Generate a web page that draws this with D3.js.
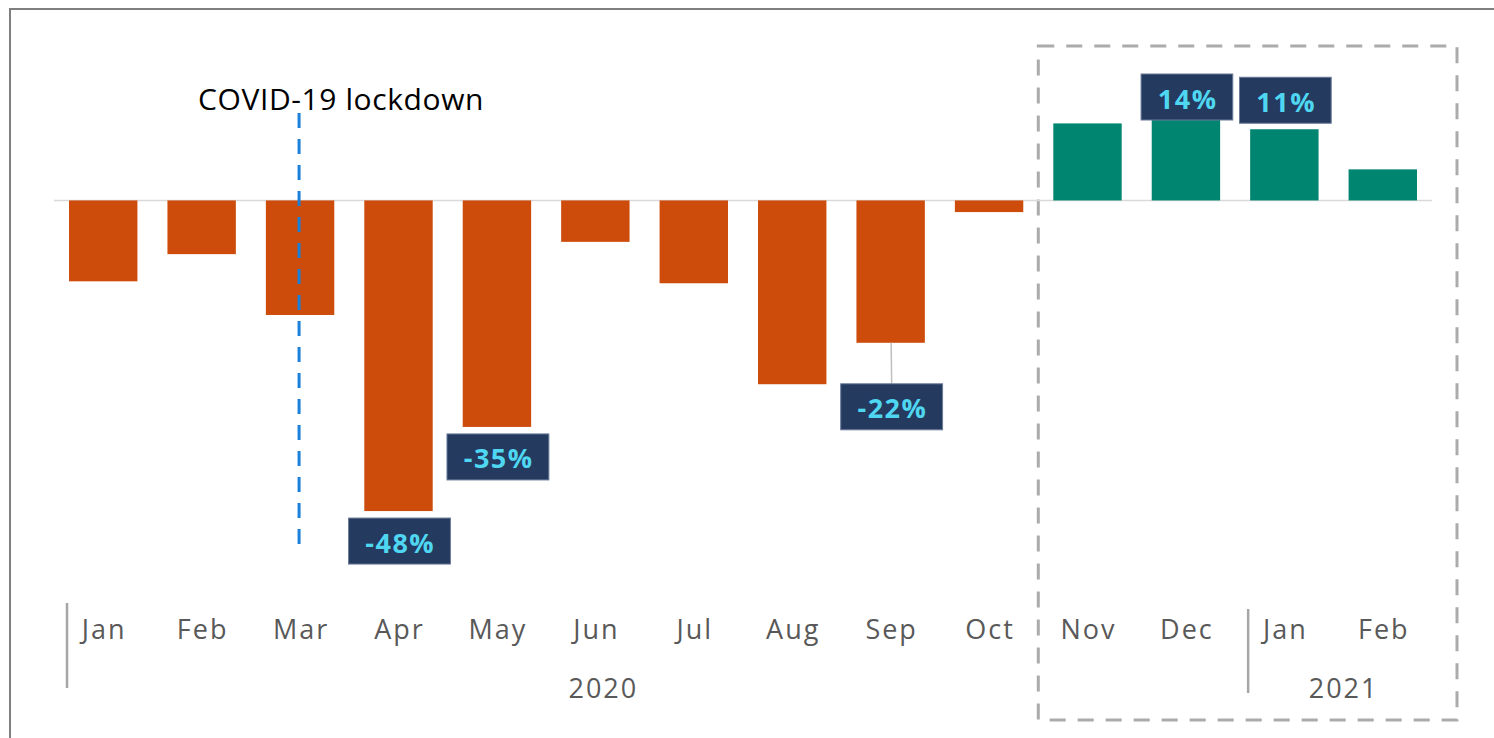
<!DOCTYPE html>
<html>
<head>
<meta charset="utf-8">
<script src="https://cdn.jsdelivr.net/npm/d3@7"></script>
<style>
  html, body { margin: 0; padding: 0; background: #fff; }
  svg { display: block; font-family: "Open Sans", "Noto Sans", sans-serif; }
</style>
</head>
<body>
<div id="chart"></div>
<script>
// month-on-month change, Jan 2020 .. Feb 2021 (%)
const months = ["Jan", "Feb", "Mar", "Apr", "May", "Jun", "Jul", "Aug", "Sep", "Oct", "Nov", "Dec", "Jan", "Feb"];
const values = [-12.5, -8.3, -17.7, -48, -35, -6.4, -12.8, -28.4, -22, -1.8, 11.9, 14, 11, 4.8];
const labels = ["", "", "", "-48%", "-35%", "", "", "", "-22%", "", "", "14%", "11%", ""];
const years = ["2020", "2021"];
const yearStart = [0, 12]; // index of first month of each year
const highlightFrom = 10; // Nov 2020 onwards sits in the dashed box
const lockdownIndex = 2; // March 2020

const W = 1494, H = 738;

const svg = d3.select("#chart").append("svg")
  .attr("width", W)
  .attr("height", H);

const xScale = d3.scaleBand()
  .domain(d3.range(months.length))
  .range([54, 1432])
  .paddingInner(0.305)
  .paddingOuter(0.1525);

const yScale = d3.scaleLinear()
  .domain([-50, 20])
  .range([524, 71]);

const step = xScale.step();
const bw = xScale.bandwidth();
const cx = (i) => xScale(i) + bw / 2;

// outer frame (top + left only are visible)
svg.append("path")
  .attr("d", `M10,${H + 5} L10,9 L${W + 5},9`)
  .attr("fill", "none")
  .attr("stroke", "#7f7f7f")
  .attr("stroke-width", 2);

// dashed box around latest months
svg.append("rect")
  .attr("x", xScale(highlightFrom) - 15)
  .attr("y", 46)
  .attr("width", 1457 - (xScale(highlightFrom) - 15))
  .attr("height", 674)
  .attr("fill", "none")
  .attr("stroke", "#ababab")
  .attr("stroke-width", 3)
  .attr("stroke-dasharray", "16 12");

// zero line
svg.append("line")
  .attr("x1", xScale.range()[0])
  .attr("x2", xScale.range()[1])
  .attr("y1", yScale(0))
  .attr("y2", yScale(0))
  .attr("stroke", "#d9d9d9")
  .attr("stroke-width", 1.5);

// bars
svg.selectAll(".bar")
  .data(values)
  .enter()
  .append("rect")
  .attr("class", "bar")
  .attr("x", (d, i) => xScale(i))
  .attr("width", bw)
  .attr("y", (d) => yScale(Math.max(0, d)))
  .attr("height", (d) => Math.abs(yScale(d) - yScale(0)))
  .attr("fill", (d, i) => (i >= highlightFrom ? "#008570" : "#cd4c0b"));

// lockdown marker
svg.append("line")
  .attr("x1", cx(lockdownIndex) - 1)
  .attr("x2", cx(lockdownIndex) - 1)
  .attr("y1", 113)
  .attr("y2", 545)
  .attr("stroke", "#1a80d9")
  .attr("stroke-width", 3)
  .attr("stroke-dasharray", "15 11");

svg.append("text")
  .attr("x", 198)
  .attr("y", 110)
  .style("font-size", "30px")
  .style("letter-spacing", "0.6px")
  .attr("fill", "#000")
  .text("COVID-19 lockdown");

// data labels
const boxH = 46;
const leaderDrop = { 8: 34 }; // Sep label pulled down with a leader line
const labelData = labels.map((t, i) => ({ t, i, v: values[i] })).filter((d) => d.t);

const lab = svg.selectAll(".lab")
  .data(labelData)
  .enter()
  .append("g")
  .attr("class", "lab");

lab.each(function (d) {
  const g = d3.select(this);
  const txt = g.append("text")
    .attr("text-anchor", "middle")
    .attr("dominant-baseline", "central")
    .style("font-size", "27px")
    .style("font-weight", "bold")
    .style("letter-spacing", "1.5px")
    .attr("fill", "#4fd7f2")
    .text(d.t);
  const tw = txt.node().getComputedTextLength();
  const bwBox = tw + 32;
  let top;
  if (d.v < 0) {
    top = yScale(d.v) + 7 + (leaderDrop[d.i] || 0);
  } else {
    top = Math.max(74, yScale(d.v) - 6 - boxH);
  }
  const x = cx(d.i) + 1;
  if (leaderDrop[d.i]) {
    g.insert("line", "text")
      .attr("x1", x - 0.5)
      .attr("x2", x)
      .attr("y1", yScale(d.v))
      .attr("y2", top)
      .attr("stroke", "#bfbfbf")
      .attr("stroke-width", 1.5);
  }
  g.insert("rect", "text")
    .attr("x", x - bwBox / 2)
    .attr("y", top)
    .attr("width", bwBox)
    .attr("height", boxH)
    .attr("fill", "#243a5e")
    .attr("stroke", "#6b7b99")
    .attr("stroke-width", 1);
  txt.attr("x", x + 0.75).attr("y", top + boxH / 2 + 1);
});

// month axis labels
svg.selectAll(".month")
  .data(months)
  .enter()
  .append("text")
  .attr("class", "month")
  .attr("x", (d, i) => cx(i) + 1)
  .attr("y", 639)
  .attr("text-anchor", "middle")
  .style("font-size", "27px")
  .style("letter-spacing", "2px")
  .attr("fill", "#595959")
  .text((d) => d);

// year separators
svg.selectAll(".sep")
  .data(yearStart)
  .enter()
  .append("line")
  .attr("class", "sep")
  .attr("x1", (d) => xScale(d) - 2)
  .attr("x2", (d) => xScale(d) - 2)
  .attr("y1", (d, i) => (i === 0 ? 603 : 609))
  .attr("y2", (d, i) => (i === 0 ? 688 : 693))
  .attr("stroke", "#a6a6a6")
  .attr("stroke-width", 2.5);

// year labels
const yearAt = [5, 12.5];
svg.selectAll(".year")
  .data(years)
  .enter()
  .append("text")
  .attr("class", "year")
  .attr("x", (d, i) => xScale(0) + step * yearAt[i] + bw / 2 + (i === 0 ? 8 : 10))
  .attr("y", 698)
  .attr("text-anchor", "middle")
  .style("font-size", "27px")
  .style("letter-spacing", "2px")
  .attr("fill", "#595959")
  .text((d) => d);
</script>
</body>
</html>
